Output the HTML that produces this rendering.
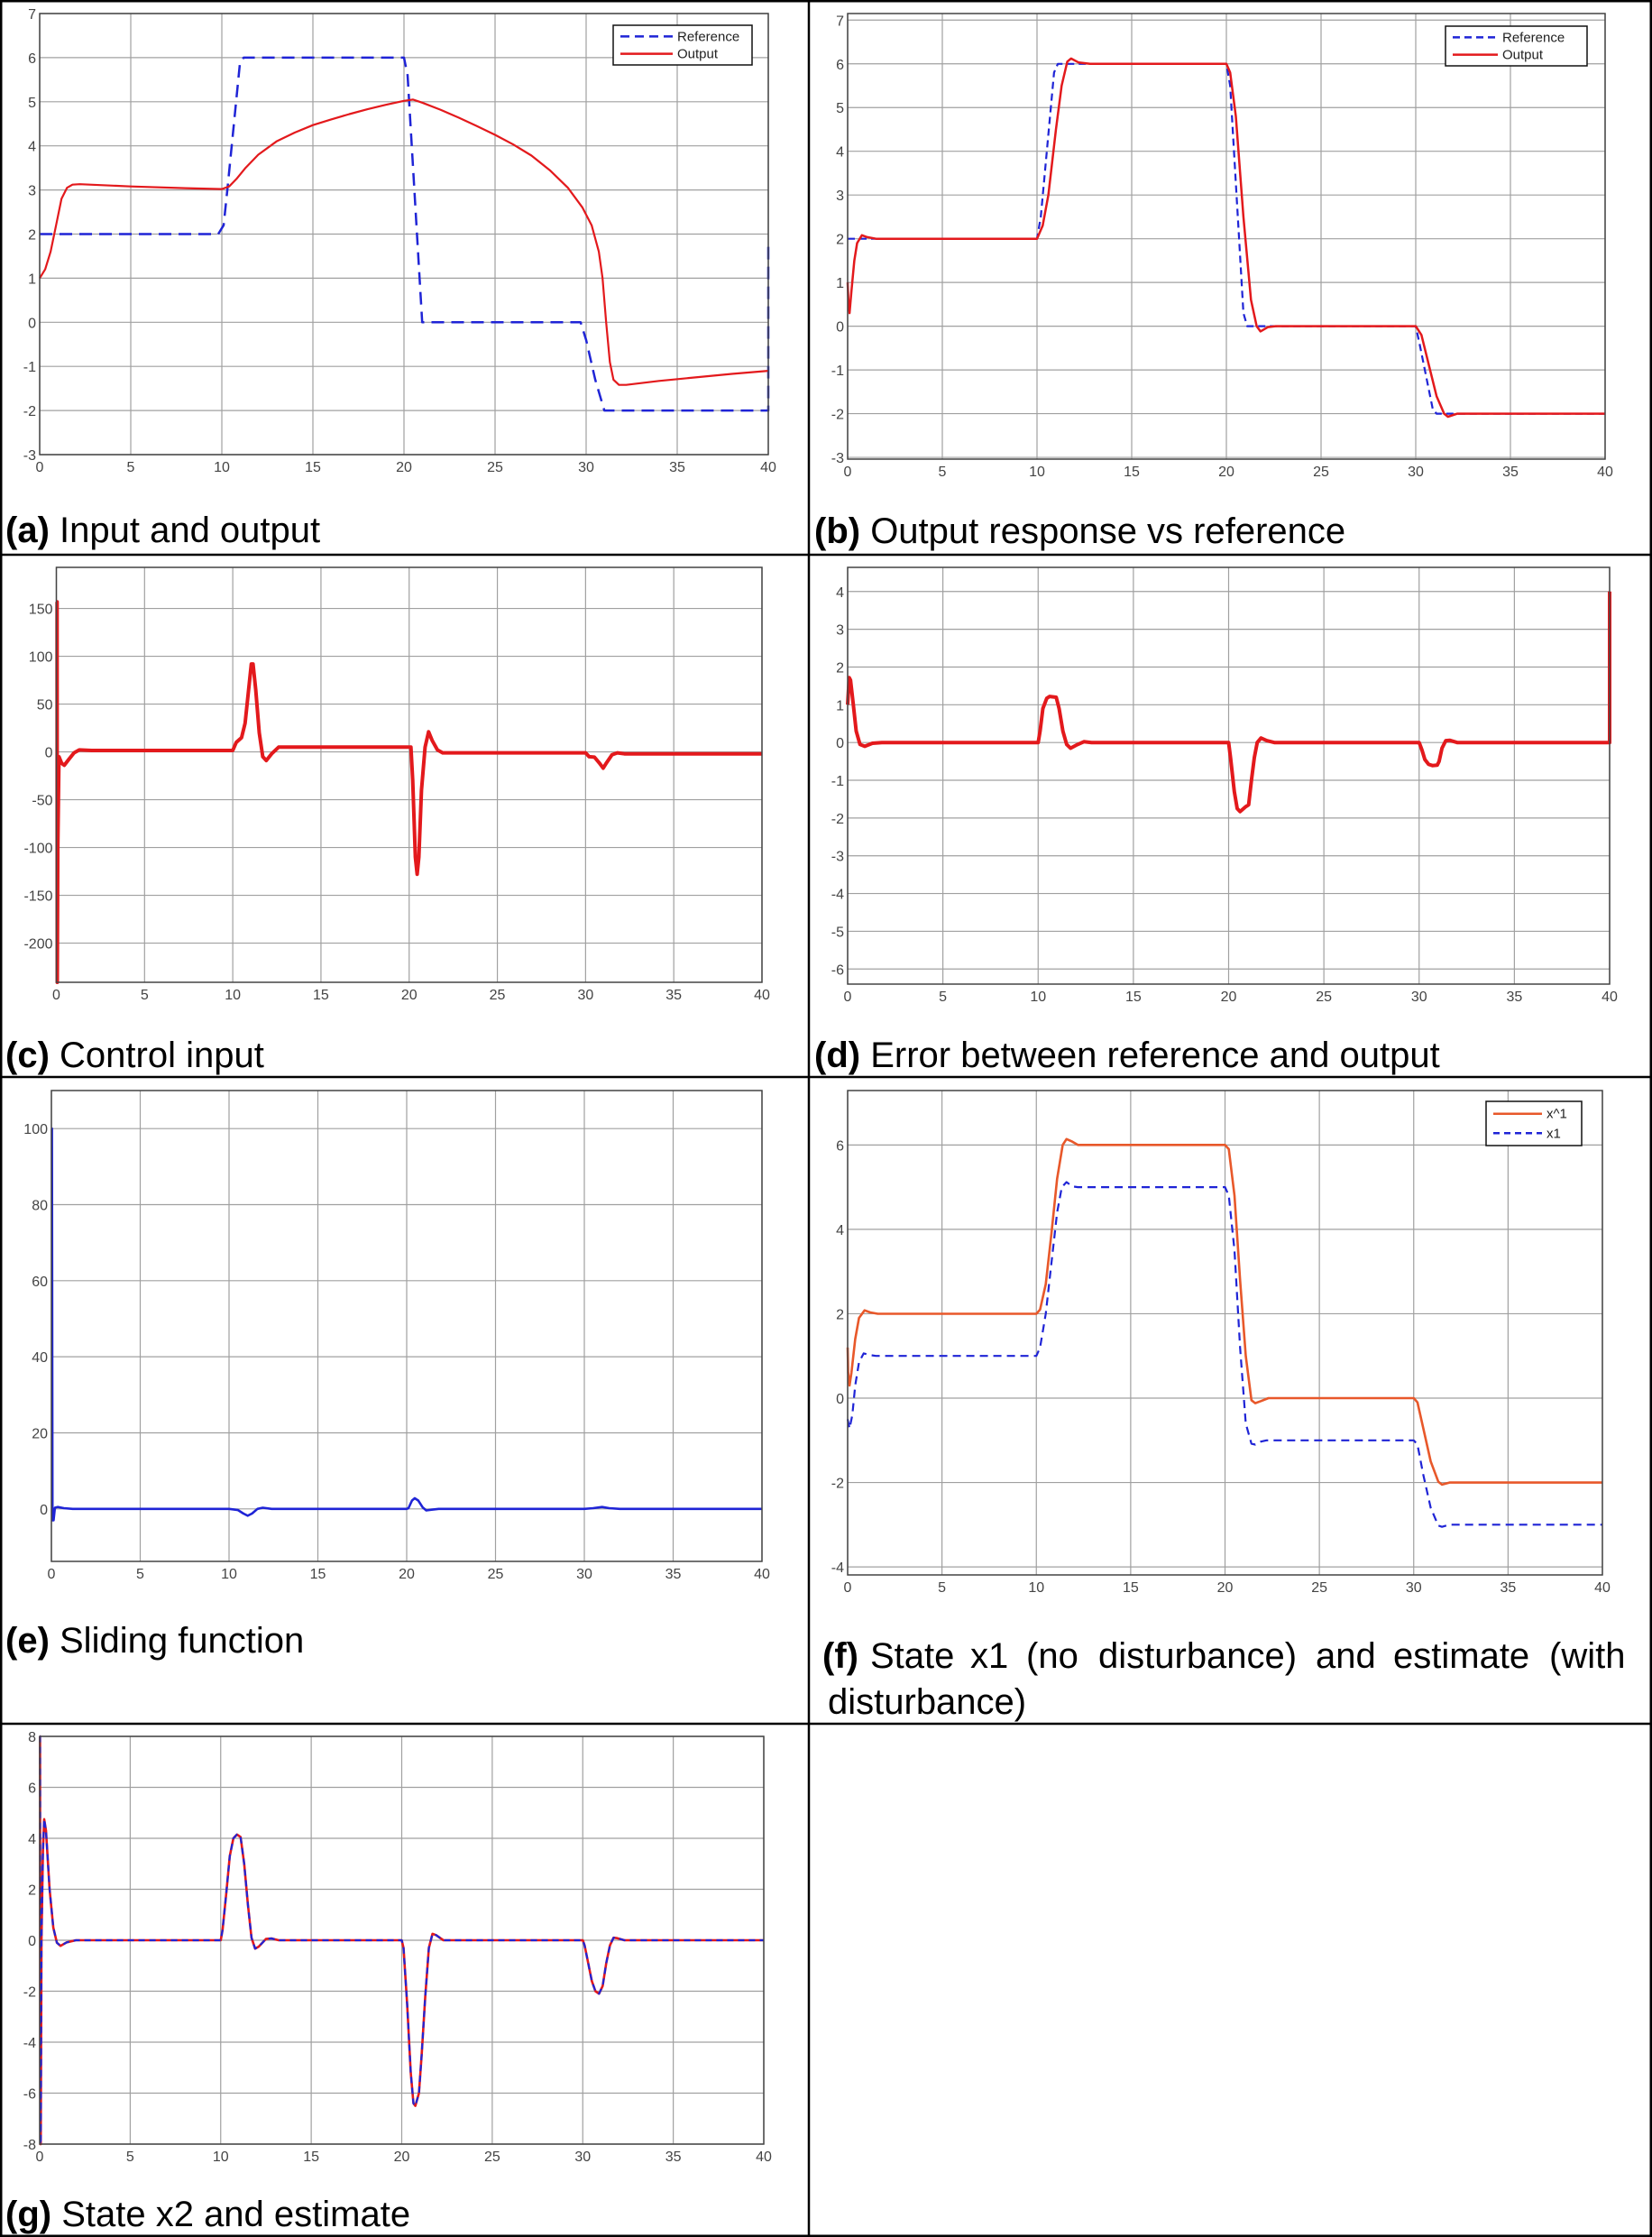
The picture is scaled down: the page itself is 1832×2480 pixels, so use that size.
<!DOCTYPE html>
<html><head><meta charset="utf-8"><style>
html,body{margin:0;padding:0;background:#fff}
svg{display:block}
.tk{font-family:"Liberation Sans",sans-serif;font-size:16px;fill:#444}
.cap{font-family:"Liberation Sans",sans-serif;font-size:40px;fill:#000}
.capb{font-weight:bold}
.lg{font-family:"Liberation Sans",sans-serif;font-size:15px;fill:#222}
</style></head><body>
<svg id="s" xmlns="http://www.w3.org/2000/svg" width="1832" height="2480" viewBox="0 0 1832 2480">
<rect x="0" y="0" width="1832" height="2480" fill="#fff"/>
<g id="plots"></g>
<g stroke="#000" stroke-width="2.5" fill="none">
<rect x="1.25" y="1.25" width="1829.5" height="2477.5"/>
<line x1="897" y1="0" x2="897" y2="2480"/>
<line x1="0" y1="615" x2="1832" y2="615"/>
<line x1="0" y1="1194" x2="1832" y2="1194"/>
<line x1="0" y1="1911" x2="1832" y2="1911"/>
</g>
<text class="cap" x="6" y="601"><tspan class="capb">(a)</tspan> Input and output</text>
<text class="cap" x="903" y="602"><tspan class="capb">(b)</tspan> Output response vs reference</text>
<text class="cap" x="6" y="1183"><tspan class="capb">(c)</tspan> Control input</text>
<text class="cap" x="903" y="1183"><tspan class="capb">(d)</tspan> Error between reference and output</text>
<text class="cap" x="6" y="1832"><tspan class="capb">(e)</tspan> Sliding function</text>
<text class="cap capb" x="912" y="1849">(f)</text>
<text class="cap" x="965" y="1849">State</text>
<text class="cap" x="1076" y="1849">x1</text>
<text class="cap" x="1138" y="1849">(no</text>
<text class="cap" x="1218" y="1849">disturbance)</text>
<text class="cap" x="1459" y="1849">and</text>
<text class="cap" x="1545" y="1849">estimate</text>
<text class="cap" x="1718" y="1849">(with</text>
<text class="cap" x="918" y="1900">disturbance)</text>
<text class="cap" x="6" y="2468"><tspan class="capb">(g)</tspan> State x2 and estimate</text>
</svg>
<script>
var NS="http://www.w3.org/2000/svg";
var G=document.getElementById("plots");
function el(n,a,p){var e=document.createElementNS(NS,n);for(var k in a)e.setAttribute(k,a[k]);(p||G).appendChild(e);return e;}
var cid=0;
function panel(P){
 var sx=function(t){return P.x0+(t/40)*(P.x1-P.x0);};
 var sy=function(v){return P.y1-(v-P.ymin)/(P.ymax-P.ymin)*(P.y1-P.y0);};
 var g=el("g",{});
 for(var t=0;t<=40;t+=5){var X=sx(t);
  el("line",{x1:X,y1:P.y0,x2:X,y2:P.y1,stroke:"#a0a0a0","stroke-width":1.2},g);
  var tx=el("text",{x:X,y:P.y1+19,"text-anchor":"middle","class":"tk"},g);tx.textContent=t;}
 P.yt.forEach(function(v){var Y=sy(v);
  el("line",{x1:P.x0,y1:Y,x2:P.x1,y2:Y,stroke:"#a0a0a0","stroke-width":1.2},g);
  var tx=el("text",{x:P.x0-4,y:Y+6,"text-anchor":"end","class":"tk"},g);tx.textContent=v;});
 cid++;var cp=el("clipPath",{id:"c"+cid},g);el("rect",{x:P.x0-2,y:P.y0-2,width:P.x1-P.x0+4,height:P.y1-P.y0+4},cp);
 var sg=el("g",{"clip-path":"url(#c"+cid+")"},g);
 P.series.forEach(function(S){
  var d=S.pts.map(function(p,i){return (i?"L":"M")+sx(p[0]).toFixed(1)+","+sy(p[1]).toFixed(1);}).join("");
  var a={d:d,fill:"none",stroke:S.c,"stroke-width":S.w,"stroke-linejoin":"round"};
  if(S.dash)a["stroke-dasharray"]=S.dash;
  el("path",a,sg);});
 el("rect",{x:P.x0,y:P.y0,width:P.x1-P.x0,height:P.y1-P.y0,fill:"none",stroke:"#444","stroke-width":1.5},g);
 if(P.leg){var L=P.leg;
  el("rect",{x:L.x,y:L.y,width:L.w,height:L.h,fill:"#fff",stroke:"#111","stroke-width":1.5},g);
  L.items.forEach(function(it,i){var Y=L.y+L.h*(i===0?0.28:0.72);
   var a={x1:L.x+8,y1:Y,x2:L.x+L.lw,y2:Y,stroke:it.c,"stroke-width":2.5};if(it.dash)a["stroke-dasharray"]=it.dash;
   el("line",a,g);var tx=el("text",{x:L.x+L.lw+5,y:Y+5,"class":"lg"},g);tx.textContent=it.t;});}
}
var RED="#e3191c",BLUE="#1f24d6";
panel({x0:44,x1:852,y0:15,y1:504,ymin:-3,ymax:7,yt:[-3,-2,-1,0,1,2,3,4,5,6,7],
series:[
{c:BLUE,w:2.5,dash:"14 8",pts:[[0,2],[9.8,2],[10.1,2.2],[10.3,3],[11,5.9],[11.2,6],[20,6],[20.2,5.6],[21,0],[29.7,0],[30,-0.4],[30.5,-1.3],[31,-2],[40,-2],[40,1.8]]},
{c:RED,w:2.2,pts:[[0,1],[0.3,1.2],[0.6,1.6],[0.9,2.2],[1.2,2.8],[1.5,3.05],[1.8,3.12],[2.2,3.13],[5,3.08],[8,3.04],[10,3.02],[10.4,3.08],[10.8,3.25],[11.3,3.5],[12,3.8],[13,4.1],[14,4.3],[15,4.47],[16,4.6],[17,4.72],[18,4.83],[19,4.93],[20,5.02],[20.5,5.05],[21,4.98],[22,4.82],[23,4.64],[24,4.45],[25,4.25],[26,4.03],[27,3.78],[28,3.45],[29,3.05],[29.8,2.6],[30.3,2.2],[30.7,1.6],[30.9,1],[31.1,0],[31.3,-0.9],[31.5,-1.3],[31.8,-1.42],[32.2,-1.42],[34,-1.33],[36,-1.25],[38,-1.17],[40,-1.1]]}],
leg:{x:680,y:28,w:154,h:44,lw:66,items:[{c:BLUE,dash:"10 6",t:"Reference"},{c:RED,t:"Output"}]}});
panel({x0:940,x1:1780,y0:15,y1:509,ymin:-3.04,ymax:7.15,yt:[-3,-2,-1,0,1,2,3,4,5,6,7],
series:[
{c:BLUE,w:2.2,dash:"8 5",pts:[[0,2],[10,2],[10.2,2.5],[10.9,5.8],[11.1,6],[20,6],[20.2,5.5],[20.9,0.3],[21.1,0],[30,0],[30.2,-0.4],[30.9,-1.9],[31.1,-2],[40,-2]]},
{c:RED,w:2.5,pts:[[0,1],[0.05,0.5],[0.1,0.3],[0.2,0.8],[0.35,1.5],[0.5,1.9],[0.75,2.08],[1,2.04],[1.5,2],[10,2],[10.3,2.3],[10.6,3],[11,4.5],[11.3,5.5],[11.6,6.05],[11.8,6.12],[12.2,6.03],[12.8,6],[20,6],[20.2,5.8],[20.5,4.8],[20.9,2.5],[21.3,0.6],[21.6,0],[21.8,-0.12],[22.2,-0.02],[22.6,0],[30,0],[30.3,-0.2],[30.7,-0.9],[31.1,-1.6],[31.5,-2],[31.7,-2.07],[32.2,-2],[40,-2]]}],
leg:{x:1603,y:29,w:157,h:44,lw:58,items:[{c:BLUE,dash:"8 5",t:"Reference"},{c:RED,t:"Output"}]}});
panel({x0:62.5,x1:845,y0:629,y1:1089,ymin:-241,ymax:193,yt:[-200,-150,-100,-50,0,50,100,150],
series:[{c:RED,w:4,pts:[[0,157],[0.04,157],[0.05,-241],[0.08,-100],[0.15,-5],[0.3,-12],[0.45,-14],[0.7,-8],[1,-1],[1.3,2],[2,1.5],[10,1.5],[10.2,10],[10.5,15],[10.7,30],[10.9,65],[11.05,92],[11.15,92],[11.3,65],[11.5,20],[11.7,-5],[11.9,-9],[12.2,-2],[12.6,5],[13,5],[20,5],[20.1,5],[20.2,-30],[20.35,-110],[20.45,-128],[20.55,-110],[20.7,-40],[20.9,5],[21.1,21],[21.3,12],[21.6,2],[21.9,-1],[30,-1],[30.2,-5],[30.5,-5.5],[30.8,-12],[31,-17],[31.2,-11],[31.5,-3],[31.8,-1],[32.2,-2],[40,-2]]}]});
panel({x0:940,x1:1785,y0:629,y1:1091,ymin:-6.4,ymax:4.64,yt:[-6,-5,-4,-3,-2,-1,0,1,2,3,4],
series:[{c:RED,w:4,pts:[[0,1.0],[0.08,1.72],[0.15,1.65],[0.3,1.0],[0.45,0.3],[0.65,-0.05],[0.9,-0.1],[1.3,-0.02],[1.8,0],[10,0],[10.1,0.3],[10.25,0.9],[10.45,1.17],[10.6,1.22],[10.95,1.2],[11.1,0.9],[11.3,0.3],[11.5,-0.05],[11.7,-0.15],[12,-0.07],[12.4,0.02],[12.8,0],[20,0],[20.1,-0.4],[20.3,-1.3],[20.45,-1.75],[20.6,-1.83],[20.9,-1.7],[21.05,-1.65],[21.2,-1.0],[21.35,-0.4],[21.5,0],[21.7,0.12],[22,0.05],[22.4,0],[30,0],[30.15,-0.2],[30.3,-0.45],[30.5,-0.58],[30.7,-0.61],[30.95,-0.6],[31.05,-0.5],[31.2,-0.15],[31.4,0.05],[31.6,0.06],[32,0],[40,0],[40,4]]}]});
panel({x0:57,x1:845,y0:1209,y1:1731,ymin:-13.8,ymax:110,yt:[0,20,40,60,80,100],
series:[{c:BLUE,w:2.6,pts:[[0,100],[0.03,100],[0.06,-3],[0.12,-3],[0.2,0.3],[0.35,0.5],[0.7,0.2],[1.2,0],[10,0],[10.5,-0.3],[10.8,-1.2],[11.05,-1.8],[11.3,-1.2],[11.6,0],[11.9,0.3],[12.4,0],[20,0],[20.1,0.2],[20.3,2.2],[20.45,2.8],[20.65,2.2],[20.9,0.4],[21.1,-0.4],[21.4,-0.2],[21.8,0],[30,0],[30.5,0.2],[31,0.5],[31.4,0.2],[32,0],[40,0]]}]});
var OR="#e8582a";
panel({x0:940,x1:1777,y0:1209,y1:1746,ymin:-4.19,ymax:7.29,yt:[-4,-2,0,2,4,6],
series:[
{c:OR,w:2.6,pts:[[0,1.2],[0.03,0.6],[0.1,0.3],[0.2,0.6],[0.4,1.4],[0.6,1.9],[0.9,2.08],[1.2,2.03],[1.6,2],[10,2],[10.2,2.1],[10.5,2.7],[10.8,3.9],[11.1,5.2],[11.4,6.0],[11.6,6.14],[11.9,6.08],[12.2,6],[20,6],[20.2,5.9],[20.5,4.8],[20.8,2.8],[21.1,1.0],[21.4,-0.05],[21.6,-0.12],[21.9,-0.07],[22.3,0],[30,0],[30.2,-0.1],[30.5,-0.7],[30.9,-1.5],[31.3,-1.98],[31.5,-2.05],[31.9,-2],[40,-2]]},
{c:BLUE,w:2.2,dash:"9 6",pts:[[0,-0.5],[0.1,-0.72],[0.25,-0.4],[0.4,0.3],[0.6,0.85],[0.85,1.06],[1.2,1.02],[1.5,1],[10,1],[10.2,1.2],[10.5,2],[10.8,3.2],[11.1,4.4],[11.35,5.0],[11.6,5.12],[11.9,5.02],[12.2,5],[20,5],[20.2,4.8],[20.5,3.5],[20.8,1.2],[21.1,-0.6],[21.4,-1.08],[21.6,-1.1],[21.9,-1.03],[22.2,-1],[30,-1],[30.2,-1.1],[30.5,-1.8],[30.9,-2.6],[31.3,-3.02],[31.5,-3.05],[31.9,-3],[40,-3]]}],
leg:{x:1648,y:1221,w:106,h:49,lw:62,items:[{c:OR,t:"x^1"},{c:BLUE,dash:"7 5",t:"x1"}]}});
var gp=[[0,8],[0.02,8],[0.04,-8],[0.06,-8],[0.1,0],[0.18,3.5],[0.25,4.75],[0.35,4.3],[0.55,2],[0.75,0.5],[0.95,-0.1],[1.15,-0.22],[1.5,-0.08],[2,0],[10,0],[10.1,0.4],[10.3,1.8],[10.5,3.3],[10.7,4.0],[10.9,4.15],[11.1,4.05],[11.3,3.0],[11.5,1.4],[11.7,0.1],[11.9,-0.33],[12.1,-0.25],[12.5,0.05],[12.8,0.07],[13.2,0],[20,0],[20.1,-0.3],[20.3,-2.5],[20.5,-5.2],[20.65,-6.4],[20.75,-6.5],[20.95,-6.0],[21.1,-4.5],[21.3,-2.2],[21.5,-0.3],[21.7,0.25],[21.9,0.2],[22.3,0],[30,0],[30.1,-0.2],[30.3,-0.9],[30.5,-1.6],[30.7,-2.0],[30.9,-2.1],[31.1,-1.8],[31.3,-0.9],[31.5,-0.2],[31.7,0.1],[31.9,0.08],[32.3,0],[40,0]];
panel({x0:44,x1:847,y0:1925,y1:2377,ymin:-8,ymax:8,yt:[-8,-6,-4,-2,0,2,4,6,8],
series:[{c:RED,w:2.6,pts:gp},{c:BLUE,w:2.2,dash:"7 5",pts:gp}]});
</script>
</body></html>
